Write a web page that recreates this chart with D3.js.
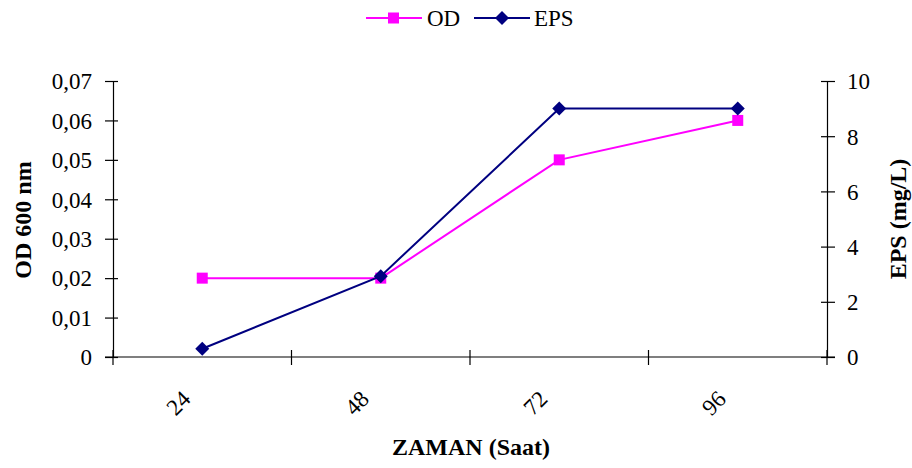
<!DOCTYPE html>
<html><head><meta charset="utf-8">
<script src="https://cdn.jsdelivr.net/npm/d3@7"></script>
<style>body{margin:0;background:#fff}svg{display:block}</style>
</head><body><svg id="c" width="912" height="468"></svg>
<script>
const categories = ["24","48","72","96"];
const odValues = [0.02, 0.02, 0.05, 0.06];
const epsValues = [0.3, 2.93, 9.0, 9.0];
const leftTicks = [0,0.01,0.02,0.03,0.04,0.05,0.06,0.07];
const rightTicks = [0,2,4,6,8,10];

const FONT = '"Liberation Serif"';
const svg = d3.select("#c");
const L=113, R=827, T=81, B=357;
const x = d3.scaleBand().domain(categories).range([L,R]);
const yL = d3.scaleLinear().domain([0,0.07]).range([B,T]);
const yR = d3.scaleLinear().domain([0,10]).range([B,T]);
const fmt = d => d===0 ? "0" : d3.format(".2f")(d).replace(".",",");

function styleAxis(g){
  g.select(".domain").attr("stroke","#000").attr("stroke-width",1.2);
  g.selectAll(".tick line").attr("stroke","#000").attr("stroke-width",1.2);
}
// left axis
const gl = svg.append("g").attr("transform",`translate(${L},0)`)
  .call(d3.axisLeft(yL).tickValues(leftTicks).tickFormat(fmt).tickSize(6).tickSizeOuter(0));
styleAxis(gl);
gl.selectAll(".tick line").attr("x2",-8).attr("x1",5);
gl.selectAll(".tick text").style("font-size","23px").attr("x",-21).attr("dy","0.34em");
// right axis
const gr = svg.append("g").attr("transform",`translate(${R},0)`)
  .call(d3.axisRight(yR).tickValues(rightTicks).tickSize(6).tickSizeOuter(0));
styleAxis(gr);
gr.selectAll(".tick line").attr("x1",-6).attr("x2",8);
gr.selectAll(".tick text").style("font-size","23px").attr("x",20).attr("dy","0.34em");
// x axis
const gx = svg.append("g").attr("transform",`translate(0,${B})`)
  .call(d3.axisBottom(x).tickSize(0).tickSizeOuter(0));
styleAxis(gx);
gx.select(".domain").attr("d",`M${L-8},0H${R+8}`);
gx.selectAll(".tick text").style("font-size","23px")
  .attr("text-anchor","middle").attr("dy","0.34em").attr("y",0)
  .attr("transform","translate(-24,46) rotate(-45)");
// category boundary ticks
const bounds = categories.map(c=>x(c)).concat([R]);
svg.append("g").selectAll("line").data(bounds).join("line")
  .attr("x1",d=>d).attr("x2",d=>d).attr("y1",B-7).attr("y2",B+8)
  .attr("stroke","#000").attr("stroke-width",1.2);

const cx = c => x(c)+x.bandwidth()/2;
// OD series
svg.append("path").datum(odValues).attr("fill","none").attr("stroke","#FF00FF").attr("stroke-width",2)
  .attr("d", d3.line().x((d,i)=>cx(categories[i])).y(d=>yL(d)));
svg.append("g").selectAll("rect").data(odValues).join("rect")
  .attr("x",(d,i)=>cx(categories[i])-5.5).attr("y",d=>yL(d)-5.5)
  .attr("width",11).attr("height",11).attr("fill","#FF00FF");
// EPS series
svg.append("path").datum(epsValues).attr("fill","none").attr("stroke","#000080").attr("stroke-width",2)
  .attr("d", d3.line().x((d,i)=>cx(categories[i])).y(d=>yR(d)));
const diamond = s => `M0,${-s}L${s},0L0,${s}L${-s},0Z`;
svg.append("g").selectAll("path").data(epsValues).join("path")
  .attr("d",diamond(7)).attr("fill","#000080")
  .attr("transform",(d,i)=>`translate(${cx(categories[i])},${yR(d)})`);

// axis titles
svg.append("text").attr("transform","translate(31,220) rotate(-90)").attr("text-anchor","middle")
  .style("font-size","24px").style("font-weight","bold").text("OD 600 nm");
svg.append("text").attr("transform","translate(906,219) rotate(-90)").attr("text-anchor","middle")
  .style("font-size","24px").style("font-weight","bold").text("EPS (mg/L)");
svg.append("text").attr("x",471).attr("y",455).attr("text-anchor","middle")
  .style("font-size","24px").style("font-weight","bold").text("ZAMAN (Saat)");

// legend
const lg = svg.append("g");
lg.append("line").attr("x1",366).attr("x2",422).attr("y1",18).attr("y2",18).attr("stroke","#FF00FF").attr("stroke-width",2);
lg.append("rect").attr("x",388).attr("y",12.5).attr("width",11).attr("height",11).attr("fill","#FF00FF");
lg.append("text").attr("x",427).attr("y",26).style("font-size","23px").text("OD");
lg.append("line").attr("x1",474).attr("x2",530).attr("y1",18).attr("y2",18).attr("stroke","#000080").attr("stroke-width",2);
lg.append("path").attr("d",diamond(7)).attr("transform","translate(502,18)").attr("fill","#000080");
lg.append("text").attr("x",534).attr("y",26).style("font-size","23px").text("EPS");

svg.selectAll("text").style("font-family",FONT).attr("fill","#000");
</script></body></html>
